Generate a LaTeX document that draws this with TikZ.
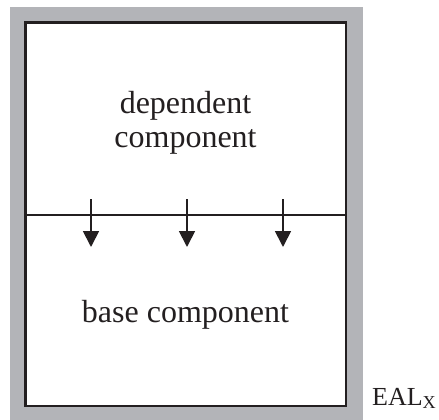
\documentclass[tikz,border=0pt]{standalone}
\usepackage{fontspec}
\setmainfont{Liberation Serif}
\usetikzlibrary{arrows.meta}
\definecolor{framegray}{RGB}{179,180,184}
\definecolor{inkblack}{RGB}{35,31,32}
\begin{document}
\begin{tikzpicture}[x=1pt,y=-1pt]
\useasboundingbox (0,0) rectangle (439,420);

\fill[framegray] (10,7) rectangle (363,420);
\draw[inkblack,line width=2.2pt,fill=white] (25.5,22.5) rectangle (346,406);

\coordinate (sl) at (25.5,215);
\coordinate (sr) at (346,215);
\draw[inkblack,line width=2.2pt] (sl) -- (sr);

\coordinate (t1) at (91,199);  \coordinate (h1) at (91,247);
\coordinate (t2) at (187,199); \coordinate (h2) at (187,247);
\coordinate (t3) at (283,199); \coordinate (h3) at (283,247);
\draw[inkblack,line width=1.8pt,-{Triangle[length=16pt,width=16pt]}] (t1) -- (h1);
\draw[inkblack,line width=1.8pt,-{Triangle[length=16pt,width=16pt]}] (t2) -- (h2);
\draw[inkblack,line width=1.8pt,-{Triangle[length=16pt,width=16pt]}] (t3) -- (h3);

\node (dep) at (185.5,122.5) [inner sep=0pt,align=center,text=inkblack,font=\fontsize{32}{34}\selectfont] {dependent\\component};
\node[anchor=base] (base) at (185.5,322) [inner sep=0pt,text=inkblack,font=\fontsize{32}{34}\selectfont] {base component};
\node[anchor=base west] (eal) at (372,405) [inner sep=0pt,text=inkblack,font=\fontsize{26}{30}\selectfont] {EAL\textsubscript{X}};
\end{tikzpicture}
\end{document}
